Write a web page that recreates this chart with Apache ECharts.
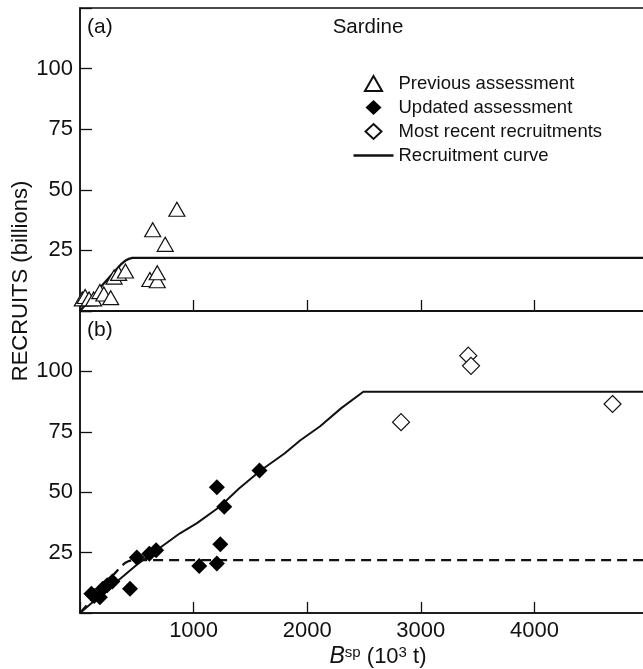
<!DOCTYPE html>
<html>
<head>
<meta charset="utf-8">
<script src="https://cdn.jsdelivr.net/npm/echarts@6/dist/echarts.min.js"></script>
<style>
  html, body { margin: 0; padding: 0; background: #fff; }
  #chart { width: 643px; height: 669px; }
</style>
</head>
<body>
<div id="chart"></div>
<script>
// Spawning biomass (10^3 t) and recruits (billions)
const previousAssessment = [
  [20, 5], [45, 6], [80, 5], [120, 5], [175, 8], [210, 7], [270, 5.5],
  [300, 14], [340, 15.5], [400, 16.5], [615, 13], [640, 33.5], [680, 12.5],
  [680, 15.8], [750, 27.5], [853, 42]
];
const updatedAssessment = [
  [100, 8], [125, 7], [175, 6.5], [200, 10], [240, 11.5], [285, 13],
  [440, 10], [500, 23], [610, 24.5], [670, 26], [1050, 19.5], [1205, 20.5],
  [1205, 52], [1235, 28.5], [1270, 44], [1580, 59]
];
const recentRecruitments = [
  [2826, 79], [3418, 106.5], [3442, 102.3], [4688, 86.5]
];
// Recruitment curve fitted in the previous assessment
const previousCurve = [
  [0, 0], [100, 5.4], [200, 10.8], [300, 16.1], [360, 19.2], [400, 20.8],
  [430, 21.5], [460, 21.9], [5000, 21.9]
];
// Recruitment curve fitted in the updated assessment
const updatedCurve = [
  [0, 0], [250, 10], [500, 20], [680, 26.2], [880, 33], [1030, 37.2],
  [1230, 44], [1400, 51.5], [1590, 59], [1800, 66], [1940, 71.5],
  [2114, 77.3], [2300, 84.8], [2494, 91.6], [5000, 91.6]
];
const xTicks = [0, 1000, 2000, 3000, 4000, 5000];
const yTicks = [0, 25, 50, 75, 100, 125];

const INK = '#111';
const FONT = 'Liberation Sans, Arial, Helvetica, sans-serif';

const chart = echarts.init(document.getElementById('chart'), null, { renderer: 'canvas' });

function xAxisFor(gridIndex, showLabels) {
  return {
    type: 'value', gridIndex,
    min: xTicks[0], max: xTicks[xTicks.length - 1], interval: 1000,
    axisLine: { show: true, onZero: false, lineStyle: { color: INK, width: 1.5 } },
    axisTick: { show: true, inside: true, length: 11, lineStyle: { color: INK, width: 1.3 } },
    splitLine: { show: false },
    axisLabel: {
      show: showLabels, margin: 7, color: INK, fontSize: 22, fontFamily: FONT,
      formatter: v => (v === xTicks[0] || v === xTicks[xTicks.length - 1]) ? '' : String(v)
    }
  };
}
function yAxisFor(gridIndex) {
  return {
    type: 'value', gridIndex,
    min: yTicks[0], max: yTicks[yTicks.length - 1], interval: 25,
    axisLine: { show: true, onZero: false, lineStyle: { color: INK, width: 1.5 } },
    axisTick: { show: true, inside: true, length: 12, lineStyle: { color: INK, width: 1.3 } },
    splitLine: { show: false },
    axisLabel: {
      margin: 7, color: INK, fontSize: 22, fontFamily: FONT,
      formatter: v => (v === yTicks[0] || v === yTicks[yTicks.length - 1]) ? '' : String(v)
    }
  };
}

const hollow = { color: '#fff', borderColor: INK, borderWidth: 1.2, opacity: 1 };

chart.setOption({
  animation: false,
  backgroundColor: '#fff',
  textStyle: { fontFamily: FONT, color: INK },
  grid: [
    { left: 80, width: 568, top: 8, height: 303, outerBoundsMode: 'none', containLabel: false,
      show: true, borderColor: INK, borderWidth: 1.5, backgroundColor: 'transparent' },
    { left: 80, width: 568, top: 311, height: 302, outerBoundsMode: 'none', containLabel: false,
      show: true, borderColor: INK, borderWidth: 1.5, backgroundColor: 'transparent' }
  ],
  xAxis: [xAxisFor(0, false), xAxisFor(1, true)],
  yAxis: [yAxisFor(0), yAxisFor(1)],
  legend: {
    orient: 'vertical', left: 353.5, top: 74,
    itemWidth: 40, itemHeight: 15, itemGap: 5, padding: 0,
    symbolKeepAspect: true, selectedMode: false,
    textStyle: { fontSize: 18.5, color: INK, fontFamily: FONT },
    data: [
      { name: 'Previous assessment', icon: 'path://M8,0L16,14H0Z' },
      { name: 'Updated assessment', icon: 'path://M8,0L16,7.5L8,15L0,7.5Z' },
      { name: 'Most recent recruitments', icon: 'path://M8,0L16,7.5L8,15L0,7.5Z' },
      { name: 'Recruitment curve', icon: 'path://M0,0H40V2.3H0Z', itemStyle: { color: INK, borderWidth: 0 } }
    ]
  },
  series: [
    {
      name: 'Recruitment curve', type: 'line', xAxisIndex: 0, yAxisIndex: 0,
      data: previousCurve, symbol: 'none', silent: true,
      lineStyle: { color: INK, width: 2.3 }, itemStyle: { color: INK }, z: 2
    },
    {
      name: 'Previous assessment', type: 'scatter', xAxisIndex: 0, yAxisIndex: 0,
      data: previousAssessment, symbol: 'triangle', symbolSize: [16, 14],
      itemStyle: hollow, silent: true, z: 3
    },
    {
      name: 'Previous curve', type: 'line', xAxisIndex: 1, yAxisIndex: 1,
      data: previousCurve, symbol: 'none', silent: true,
      lineStyle: { color: INK, width: 2.3, type: [10, 6] }, z: 2
    },
    {
      name: 'Recruitment curve', type: 'line', xAxisIndex: 1, yAxisIndex: 1,
      data: updatedCurve, symbol: 'none', silent: true,
      lineStyle: { color: INK, width: 2 }, itemStyle: { color: INK }, z: 2
    },
    {
      name: 'Updated assessment', type: 'scatter', xAxisIndex: 1, yAxisIndex: 1,
      data: updatedAssessment, symbol: 'diamond', symbolSize: [16, 16],
      itemStyle: { color: '#000', borderColor: '#000', borderWidth: 0, opacity: 1 }, silent: true, z: 3
    },
    {
      name: 'Most recent recruitments', type: 'scatter', xAxisIndex: 1, yAxisIndex: 1,
      data: recentRecruitments, symbol: 'diamond', symbolSize: [17, 17],
      itemStyle: hollow, silent: true, z: 3
    }
  ],
  graphic: [
    { type: 'text', left: 87, top: 17, style: { text: '(a)', fontSize: 21, fontFamily: FONT, fill: INK } },
    { type: 'text', left: 87, top: 320, style: { text: '(b)', fontSize: 21, fontFamily: FONT, fill: INK } },
    { type: 'text', x: 368, y: 27.5, style: { text: 'Sardine', fontSize: 20.5, fontFamily: FONT, fill: INK, align: 'center', verticalAlign: 'middle' } },
    { type: 'text', x: 21, y: 281, rotation: Math.PI / 2,
      style: { text: 'RECRUITS (billions)', fontSize: 22, fontFamily: FONT, fill: INK, align: 'center', verticalAlign: 'middle' } },
    { type: 'text', x: 378, y: 657,
      style: {
        text: '{i|B}{s|sp} (10{s|3} t)',
        align: 'center', verticalAlign: 'middle',
        fontSize: 22, fontFamily: FONT, fill: INK,
        rich: {
          i: { fontStyle: 'italic', fontSize: 23, fontFamily: FONT, fill: INK, lineHeight: 24 },
          s: { fontSize: 15, fontFamily: FONT, fill: INK, verticalAlign: 'top', lineHeight: 24 }
        }
      }
    }
  ]
});
</script>
</body>
</html>
